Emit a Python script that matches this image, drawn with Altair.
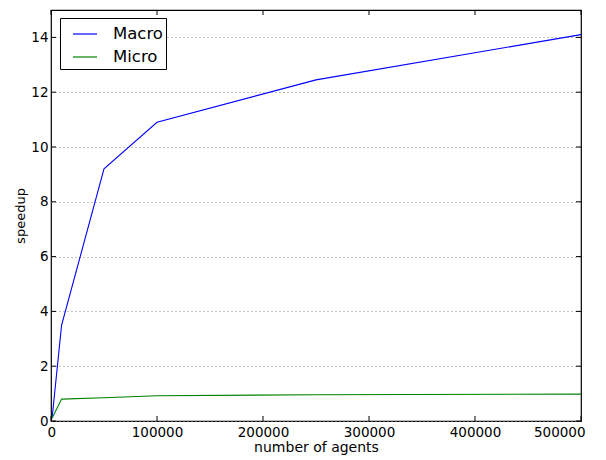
import altair as alt
import pandas as pd

agents = [1000, 10000, 50000, 100000, 250000, 500000]
macro = [0.1, 3.5, 9.2, 10.9, 12.45, 14.1]
micro = [0.1, 0.8, 0.85, 0.92, 0.96, 0.98]
series = ["Macro", "Micro"]
colors = ["#0000ff", "#008000"]
x_ticks = [0, 100000, 200000, 300000, 400000, 500000]
y_ticks = [0, 2, 4, 6, 8, 10, 12, 14]

df = pd.DataFrame({
    "agents": agents + agents,
    "speedup": macro + micro,
    "series": ["Macro"] * len(agents) + ["Micro"] * len(agents),
})
xt = pd.DataFrame({"t": x_ticks})
yt = pd.DataFrame({"t": y_ticks})

W, H = 530, 411
FONT = "DejaVu Sans"
xs = alt.Scale(domain=[0, 500000], nice=False, zero=False)
ys = alt.Scale(domain=[0, 15], nice=False)

xaxis = alt.Axis(
    values=x_ticks, format="d", title="number of agents", grid=False,
    domain=False, ticks=False, labelPadding=4, labelFontSize=13.5,
    labelFlush=True, labelFlushOffset=4,
    titleFontSize=14, titlePadding=2, titleFontWeight="normal",
    labelColor="black", titleColor="black")
yaxis = alt.Axis(
    values=y_ticks, title="speedup", grid=True, gridDash=[1, 3],
    gridColor="#888", gridWidth=1, domain=False, ticks=False,
    labelPadding=3, labelFontSize=13.5, titleFontSize=13, titlePadding=3,
    titleFontWeight="normal", labelColor="black", titleColor="black")

lines = alt.Chart(df).mark_line(strokeWidth=1.1).encode(
    x=alt.X("agents:Q", scale=xs, axis=xaxis),
    y=alt.Y("speedup:Q", scale=ys, axis=yaxis),
    color=alt.Color("series:N", scale=alt.Scale(domain=series, range=colors),
                    legend=alt.Legend(
                        title=None, orient="none", legendX=9, legendY=8,
                        strokeColor="black", fillColor="white", padding=3,
                        symbolType="stroke", symbolSize=576, symbolStrokeWidth=1.2,
                        symbolOffset=9, labelOffset=15, labelFontSize=16.5,
                        labelFont=FONT, labelColor="black", rowPadding=1,
                        cornerRadius=0)),
)

xb = alt.Chart(xt).mark_rule(color="black", strokeWidth=1).encode(
    x=alt.X("t:Q", scale=xs, axis=xaxis), y=alt.value(H), y2=alt.value(H - 5))
xtop = alt.Chart(xt).mark_rule(color="black", strokeWidth=1).encode(
    x=alt.X("t:Q", scale=xs, axis=xaxis), y=alt.value(0), y2=alt.value(5))
yl = alt.Chart(yt).mark_rule(color="black", strokeWidth=1).encode(
    y=alt.Y("t:Q", scale=ys, axis=yaxis), x=alt.value(0), x2=alt.value(5))
yr = alt.Chart(yt).mark_rule(color="black", strokeWidth=1).encode(
    y=alt.Y("t:Q", scale=ys, axis=yaxis), x=alt.value(W - 5), x2=alt.value(W))

chart = alt.layer(lines, xb, xtop, yl, yr).properties(
    width=W, height=H,
    autosize=alt.AutoSizeParams(type="none"),
    padding={"left": 43, "top": 2, "right": 17, "bottom": 36},
).configure(font=FONT).configure_view(
    stroke="black", strokeWidth=1.2
).configure_axis(labelFont=FONT, titleFont=FONT)

chart.save("out.html", embed_options={"renderer": "svg", "actions": False})
